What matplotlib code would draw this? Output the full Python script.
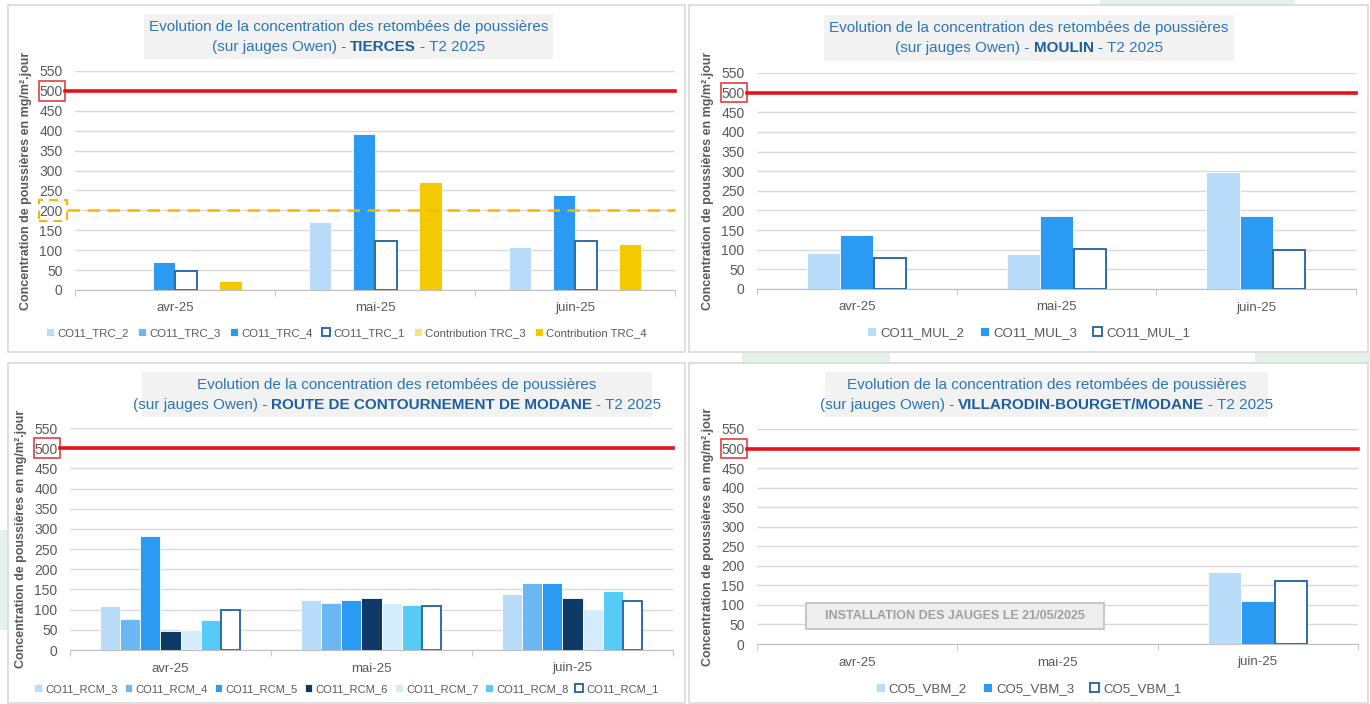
import numpy as np
import matplotlib.pyplot as plt
from matplotlib.patches import Rectangle
from matplotlib.transforms import blended_transform_factory

plt.rcParams['font.family'] = ['Liberation Sans Narrow', 'Liberation Sans', 'DejaVu Sans']

W, H = 1370, 704
nan = np.nan

mois = ['avr-25', 'mai-25', 'juin-25']

# TIERCES
trc_noms = ['CO11_TRC_2', 'CO11_TRC_3', 'CO11_TRC_4', 'CO11_TRC_1',
            'Contribution TRC_3', 'Contribution TRC_4']
trc_2 = [nan, 170, 107]
trc_3 = [nan, nan, nan]
trc_4 = [70, 393, 238]
trc_1 = [48, 122, 122]
contrib_trc_3 = [nan, nan, nan]
contrib_trc_4 = [22, 271, 116]

# MOULIN
mul_noms = ['CO11_MUL_2', 'CO11_MUL_3', 'CO11_MUL_1']
mul_2 = [92, 89, 297]
mul_3 = [137, 186, 187]
mul_1 = [78, 103, 100]

# ROUTE DE CONTOURNEMENT DE MODANE
rcm_noms = ['CO11_RCM_3', 'CO11_RCM_4', 'CO11_RCM_5', 'CO11_RCM_6',
            'CO11_RCM_7', 'CO11_RCM_8', 'CO11_RCM_1']
rcm_3 = [108, 124, 138]
rcm_4 = [77, 117, 166]
rcm_5 = [282, 123, 167]
rcm_6 = [47, 129, 130]
rcm_7 = [50, 117, 102]
rcm_8 = [74, 111, 147]
rcm_1 = [100, 109, 121]

# VILLARODIN-BOURGET/MODANE
vbm_noms = ['CO5_VBM_2', 'CO5_VBM_3', 'CO5_VBM_1']
vbm_2 = [nan, nan, 183]
vbm_3 = [nan, nan, 109]
vbm_1 = [nan, nan, 160]

seuil = 500
seuil_trc = 200

GRIS = '#595959'
BLEU_TITRE = '#2e75b6'
BLEU_GRAS = '#1f5f9f'
CONTOUR = '#2e6ca4'

fig = plt.figure(figsize=(W / 100, H / 100), dpi=100)
fig.patch.set_facecolor('white')

# decor vert pale en fond
for (x0, y0, x1, y1) in [(0, 530, 8, 630), (1100, 0, 1295, 6), (742, 353, 890, 364),
                         (1255, 353, 1370, 364)]:
    fig.patches.append(Rectangle((x0 / W, 1 - y1 / H), (x1 - x0) / W, (y1 - y0) / H,
                                 transform=fig.transFigure, facecolor='#e4f3ea',
                                 edgecolor='none', zorder=0))


def rect_px(x0, y0, x1, y1, **kw):
    r = Rectangle((x0 / W, 1 - y1 / H), (x1 - x0) / W, (y1 - y0) / H,
                  transform=fig.transFigure, **kw)
    fig.patches.append(r)
    return r


def titre(box, lieu):
    x0, y0, x1, y1 = box
    rect_px(x0, y0, x1, y1, facecolor='#f2f2f2', edgecolor='none', zorder=1)
    cx = (x0 + x1) / 2
    fig.text(cx / W, 1 - (y0 + 13) / H,
             'Evolution de la concentration des retombées de poussières',
             ha='center', va='center', color=BLEU_TITRE, fontsize=11, zorder=2)
    yl = 1 - (y0 + 33) / H
    r = fig.canvas.get_renderer()
    morceaux = [('(sur jauges Owen) -', 'normal', BLEU_TITRE),
                (lieu, 'bold', BLEU_GRAS),
                ('- T2 2025', 'normal', BLEU_TITRE)]
    textes = [fig.text(0, yl, s, fontweight=w, color=c, fontsize=11,
                       va='center', ha='left', zorder=2) for s, w, c in morceaux]
    larg = [t.get_window_extent(r).width for t in textes]
    esp = 4
    total = sum(larg) + esp * 2
    x = cx - total / 2
    for t, l in zip(textes, larg):
        t.set_x(x / W)
        x += l + esp


def panneau(cadre, pos, box_titre, lieu, noms, series, couleurs, groupe, leg_y,
            leg_taille, leg_esp, ligne_trc=False):
    rect_px(*cadre, facecolor='white', edgecolor='#d9d9d9', lw=1.2, zorder=0.5)
    ax = fig.add_axes(pos)
    ax.set_zorder(1.5)
    ax.set_facecolor('none')
    n = len(series)
    larg = groupe / n
    x = np.arange(len(mois))
    for i, (nom, vals, c) in enumerate(zip(noms, series, couleurs)):
        dx = (i - (n - 1) / 2) * larg
        if c == 'white':
            ax.bar(x + dx, vals, larg * 0.96, color='white', edgecolor=CONTOUR,
                   lw=1.4, label=nom, zorder=3)
        else:
            ax.bar(x + dx, vals, larg, color=c, edgecolor='white', lw=0.6,
                   label=nom, zorder=3)
    ax.set_xlim(-0.5, len(mois) - 0.5)
    ax.set_ylim(0, 550)
    ax.set_yticks(np.arange(0, 551, 50))
    ax.set_xticks(x)
    ax.set_xticklabels(mois)
    ax.set_xticks([-0.5, 0.5, 1.5, 2.5], minor=True)
    ax.tick_params(axis='x', which='major', length=0, pad=9, labelsize=9.5,
                   labelcolor=GRIS)
    ax.tick_params(axis='x', which='minor', length=4, color='#bfbfbf')
    ax.tick_params(axis='y', length=0, pad=9, labelsize=10, labelcolor=GRIS)
    ax.grid(axis='y', color='#d9d9d9', lw=1, zorder=0)
    for s in ['top', 'right', 'left']:
        ax.spines[s].set_visible(False)
    ax.spines['bottom'].set_color('#bfbfbf')
    ax.set_ylabel('Concentration de poussières en mg/m².jour', fontsize=9,
                  fontweight='bold', color=GRIS, labelpad=5)

    tr = blended_transform_factory(ax.transAxes, ax.transData)
    ax.plot([-0.017, 1], [seuil, seuil], transform=tr, color='#e8101a', lw=2.6,
            clip_on=False, zorder=4)
    ax.add_patch(Rectangle((-0.06, seuil - 25), 0.043, 50, transform=tr, fill=False,
                           edgecolor='#e04040', lw=1.2, clip_on=False))
    if ligne_trc:
        ax.plot([-0.013, 1], [seuil_trc, seuil_trc], transform=tr, color='#f5b800',
                lw=1.8, ls=(0, (5, 3)), clip_on=False, zorder=4)
        ax.add_patch(Rectangle((-0.06, seuil_trc - 26), 0.047, 52, transform=tr,
                               fill=False, edgecolor='#f5b800', lw=1.5,
                               ls=(0, (4, 3)), clip_on=False))

    titre(box_titre, lieu)
    h, l = ax.get_legend_handles_labels()
    cx = (cadre[0] + cadre[2]) / 2
    fig.legend(h, l, loc='center', bbox_to_anchor=(cx / W, 1 - leg_y / H), ncol=n,
               frameon=False, fontsize=leg_taille, labelcolor=GRIS, handlelength=0.7,
               handleheight=0.7, handletextpad=0.3, columnspacing=leg_esp)
    return ax


def pos_px(x0, x1, ytop, ybot):
    return [x0 / W, 1 - ybot / H, (x1 - x0) / W, (ybot - ytop) / H]


panneau((8, 5, 685, 352), pos_px(75, 675, 71, 290), (144, 14, 553, 59), 'TIERCES',
        trc_noms, [trc_2, trc_3, trc_4, trc_1, contrib_trc_3, contrib_trc_4],
        ['#b9dcfb', '#6ab7f3', '#2b9af3', 'white', '#ffe27a', '#f5c900'],
        0.665, 333, 8.2, 0.8, ligne_trc=True)

panneau((689, 5, 1368, 352), pos_px(757, 1356, 73, 289), (824, 15, 1234, 61), 'MOULIN',
        mul_noms, [mul_2, mul_3, mul_1],
        ['#b9dcfb', '#2b9af3', 'white'], 0.5, 333, 9.5, 1.2)

panneau((8, 363, 685, 703), pos_px(70, 673, 428, 650), (142, 372, 652, 417),
        'ROUTE DE CONTOURNEMENT DE MODANE',
        rcm_noms, [rcm_3, rcm_4, rcm_5, rcm_6, rcm_7, rcm_8, rcm_1],
        ['#b9dcfb', '#6ab7f3', '#2b9af3', '#0d3a66', '#d4edfc', '#55cbf5', 'white'],
        0.70, 689, 8, 0.6)

ax4 = panneau((689, 363, 1368, 703), pos_px(757, 1358, 429, 644), (825, 372, 1268, 417),
              'VILLARODIN-BOURGET/MODANE',
              vbm_noms, [vbm_2, vbm_3, vbm_1],
              ['#b9dcfb', '#2b9af3', 'white'], 0.5, 689, 9.5, 1.2)

rect_px(806, 603, 1104, 629, facecolor='#eeeeee', edgecolor='#bfbfbf', lw=1.2, zorder=5)
fig.text(955 / W, 1 - 616 / H, 'INSTALLATION DES JAUGES LE 21/05/2025', ha='center',
         va='center', color='#a0a0a0', fontsize=9, fontweight='bold', zorder=6)

fig.savefig('out.png', dpi=100)
